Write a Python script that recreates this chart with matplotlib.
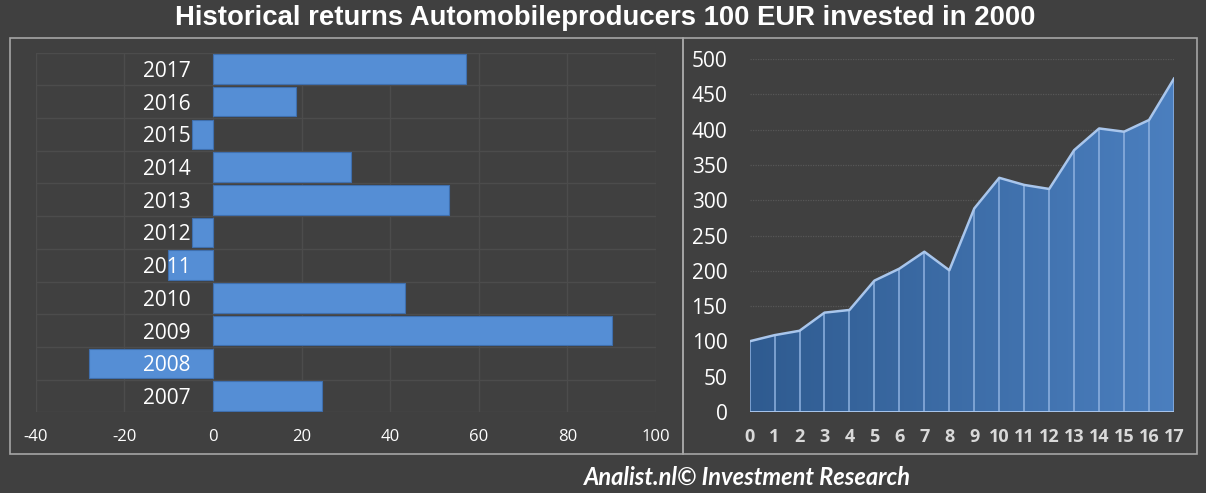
import matplotlib
matplotlib.use("Agg")
import matplotlib.pyplot as plt
import numpy as np
from matplotlib.patches import Rectangle, Polygon
from matplotlib.colors import LinearSegmentedColormap

# ---- data ----
years = ["2007", "2008", "2009", "2010", "2011", "2012", "2013", "2014", "2015", "2016", "2017"]
returns = [24.6, -28.0, 90.1, 43.3, -10.2, -4.7, 53.3, 31.2, -4.7, 18.7, 57.1]
x_ticks_left = [-40, -20, 0, 20, 40, 60, 80, 100]

periods = list(range(18))
value = [100, 108.7, 114.9, 140.6, 144.4, 186, 203, 227, 200.7, 288.4,
         331.8, 321.7, 316, 371, 401.8, 397.2, 413.8, 472.5]
y_ticks_right = [0, 50, 100, 150, 200, 250, 300, 350, 400, 450, 500]

title = "Historical returns Automobileproducers 100 EUR invested in 2000"
footer = "Analist.nl\u00a9 Investment Research"

BG = "#404040"
W, H = 1206, 493
fig = plt.figure(figsize=(W / 100, H / 100), dpi=100, facecolor=BG)

def fx(px):
    return px / W

def fy(py):
    return 1 - py / H

# panel frames
for (x0, y0, x1, y1) in [(10, 38, 683, 454), (683, 38, 1197, 454)]:
    fig.patches.append(Rectangle((fx(x0), fy(y1)), fx(x1) - fx(x0), fy(y0) - fy(y1),
                                 transform=fig.transFigure, fill=False,
                                 edgecolor="#a6a6a6", linewidth=1.2))

fig.text(0.502, fy(18), title, ha="center", va="center", color="white",
         fontsize=19.8, fontweight="bold", family="Liberation Sans")
fig.text(fx(747), fy(477), footer, ha="center", va="center", color="white",
         fontsize=17, fontweight="bold", style="italic", family="Lato")

# ---- left bar chart ----
axL = fig.add_axes([fx(35.8), fy(412.4), fx(656) - fx(35.8), fy(52.6) - fy(412.4)])
axL.set_facecolor(BG)
ypos = np.arange(len(years))
axL.set_xlim(-40, 100)
axL.set_ylim(-0.5, len(years) - 0.5)
for yb in np.arange(-0.5, len(years), 1):
    axL.axhline(yb, color="#4c4c4c", linewidth=1, zorder=0)
for xv in x_ticks_left:
    axL.axvline(xv, color="#4c4c4c", linewidth=1, zorder=0)
axL.barh(ypos, returns, height=0.9, color="#558ED5", edgecolor="#3f6fae", linewidth=0.8, zorder=1)
axL.set_xticks(x_ticks_left)
axL.set_xticklabels([str(v) for v in x_ticks_left])
axL.set_yticks(ypos)
axL.set_yticklabels(years)
axL.spines["left"].set_position(("data", 0))
for s in axL.spines.values():
    s.set_color("none")
axL.tick_params(axis="x", length=0, pad=12, labelsize=12, labelcolor="white")
axL.tick_params(axis="y", length=0, pad=16, labelsize=15, labelcolor="white")
for lab in axL.get_xticklabels() + axL.get_yticklabels():
    lab.set_family("Open Sans")

# ---- right area chart ----
axR = fig.add_axes([fx(749.6), fy(411.8), fx(1174) - fx(749.6), fy(59.2) - fy(411.8)])
axR.set_facecolor(BG)
axR.set_xlim(0, 17)
axR.set_ylim(0, 500)
axR.set_yticks(y_ticks_right)
axR.set_xticks(periods)
for s in axR.spines.values():
    s.set_color("none")
axR.grid(axis="y", color="#575757", linestyle=(0, (1, 1)), linewidth=0.9, zorder=0)
axR.set_axisbelow(True)
axR.tick_params(axis="y", length=0, pad=16, labelsize=15, labelcolor="white")
axR.tick_params(axis="x", length=0, pad=12, labelsize=13, labelcolor="#d9d9d9")
for lab in axR.get_yticklabels():
    lab.set_family("Open Sans")
for lab in axR.get_xticklabels():
    lab.set_family("Open Sans")
    lab.set_fontweight("bold")

verts = np.column_stack([periods + periods[::-1], value[:] + [0] * len(periods)])
clip = Polygon(verts, closed=True, transform=axR.transData, facecolor="none", edgecolor="none")
axR.add_patch(clip)
grad = np.linspace(0, 1, 256).reshape(1, -1)
cmap = LinearSegmentedColormap.from_list("g", ["#2f5b90", "#4b7fbf"])
im = axR.imshow(grad, extent=[0, 17, 0, 500], aspect="auto", cmap=cmap, zorder=2, origin="lower")
im.set_clip_path(clip)
axR.vlines(periods, 0, value, color="#8fb2e0", linewidth=1.1, zorder=3)
axR.plot(periods, value, color="#a9c6ec", linewidth=1.8, zorder=4)
axR.plot([0, 17], [0, 0], color="#a9c6ec", linewidth=1.4, zorder=4)

fig.savefig("out.png", dpi=100, facecolor=BG)
